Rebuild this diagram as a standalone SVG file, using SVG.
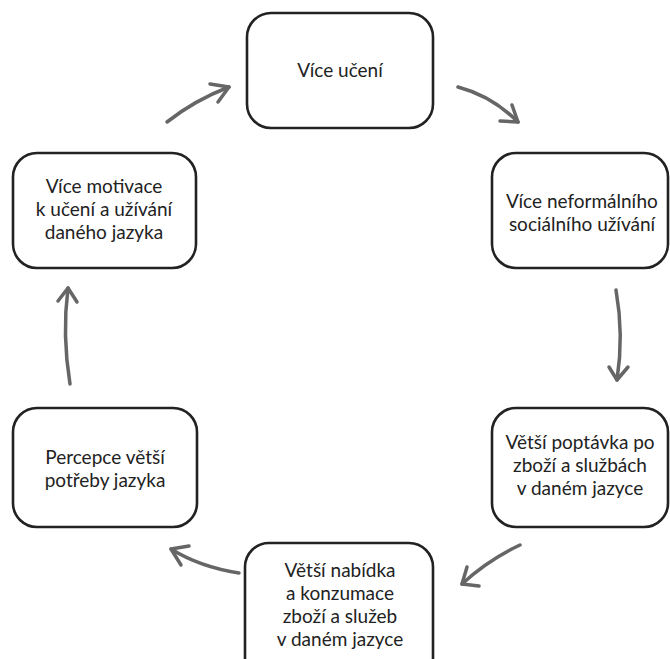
<svg xmlns="http://www.w3.org/2000/svg" width="670" height="659" viewBox="0 0 670 659">
<style>
.box{fill:#fff;stroke:#222;stroke-width:2.6}
.lbl{font-family:Lato,"Liberation Sans",sans-serif;font-size:19px;fill:#222;text-anchor:middle}
.arr{fill:none;stroke:#666;stroke-width:3.5;stroke-linecap:round;stroke-linejoin:round}
</style>
<rect width="670" height="659" fill="#fff"/>
<g id="connectors">
<path class="arr" d="M167,122 Q195,100 229,87"/>
<polyline class="arr" points="210,84 229,87 218,102"/>
<path class="arr" d="M458,87 Q492,96 518,122"/>
<polyline class="arr" points="512,105 518,122 500,121"/>
<path class="arr" d="M616,290 Q624,335 617,380"/>
<polyline class="arr" points="609,367 617,380 628,367"/>
<path class="arr" d="M520,545 Q488,560 462,584"/>
<polyline class="arr" points="467,567 462,584 479,586"/>
<path class="arr" d="M239,573 Q200,567 171,549"/>
<polyline class="arr" points="189,546 171,549 181,565"/>
<path class="arr" d="M70,384 Q62,335 68,288"/>
<polyline class="arr" points="58,301 68,288 77,302"/>
</g>
<g id="n1"><rect class="box" x="247" y="13" width="186" height="115" rx="24"/><text class="lbl" x="340" y="77">Více učení</text></g>
<g id="n2"><rect class="box" x="492" y="153" width="176" height="115" rx="24"/><text class="lbl" x="582" y="208">Více neformálního</text><text class="lbl" x="582" y="231">sociálního užívání</text></g>
<g id="n3"><rect class="box" x="492" y="408" width="176" height="119" rx="24"/><text class="lbl" x="580" y="449">Větší poptávka po</text><text class="lbl" x="580" y="472">zboží a službách</text><text class="lbl" x="580" y="495">v daném jazyce</text></g>
<g id="n4"><rect class="box" x="245" y="543" width="188" height="140" rx="24"/><text class="lbl" x="340" y="577">Větší nabídka</text><text class="lbl" x="340" y="600">a konzumace</text><text class="lbl" x="340" y="623">zboží a služeb</text><text class="lbl" x="340" y="646">v daném jazyce</text></g>
<g id="n5"><rect class="box" x="13" y="408" width="184" height="119" rx="24"/><text class="lbl" x="105" y="464">Percepce větší</text><text class="lbl" x="105" y="487">potřeby jazyka</text></g>
<g id="n6"><rect class="box" x="13" y="153" width="183" height="115" rx="24"/><text class="lbl" x="104" y="193">Více motivace</text><text class="lbl" x="104" y="216">k učení a užívání</text><text class="lbl" x="104" y="239">daného jazyka</text></g>
</svg>
